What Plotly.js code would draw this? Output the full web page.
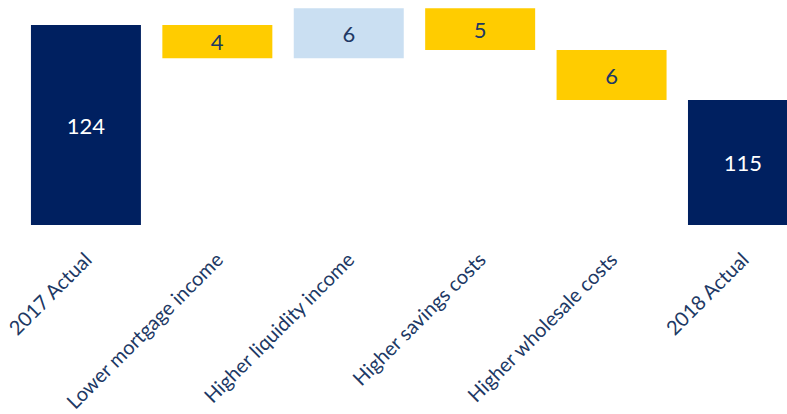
<!DOCTYPE html>
<html>
<head>
<meta charset="utf-8">
<script src="https://cdn.plot.ly/plotly-3.0.1.min.js"></script>
<style>html,body{margin:0;padding:0;background:#fff;}#chart{width:787px;height:414px;}</style>
</head>
<body>
<div id="chart"></div>
<script>
var categories = ["2017 Actual", "Lower mortgage income", "Higher liquidity income", "Higher savings costs", "Higher wholesale costs", "2018 Actual"];
var measures = ["absolute", "relative", "relative", "relative", "relative", "total"];
var values = [124, -4, 6, -5, -6, 115];
var labels = ["124", "4", "6", "5", "6", "115"];
var axisFloor = 100;

var yVals = values.map(function (v, i) {
  return measures[i] === "absolute" ? v - axisFloor : (measures[i] === "total" ? 0 : v);
});
var textColors = measures.map(function (m) { return m === "relative" ? "#203864" : "#ffffff"; });

var trace = {
  type: "waterfall",
  x: categories,
  y: yVals,
  measure: measures,
  base: axisFloor,
  text: labels,
  textposition: "inside",
  insidetextanchor: "middle",
  constraintext: "none",
  textfont: { family: "Lato, 'Open Sans', sans-serif", size: 22, color: textColors },
  connector: { visible: false },
  decreasing: { marker: { color: "#FFCC00" } },
  increasing: { marker: { color: "#CADFF2" } },
  totals: { marker: { color: "#002060" } },
  hoverinfo: "skip",
  cliponaxis: false
};

var layout = {
  width: 787,
  height: 414,
  margin: { l: 0, r: 0, t: 0, b: 189, pad: 0 },
  paper_bgcolor: "#ffffff",
  plot_bgcolor: "#ffffff",
  showlegend: false,
  waterfallgap: 0.163,
  font: { family: "Lato, 'Open Sans', sans-serif" },
  xaxis: {
    type: "category",
    range: [-0.654, 5.335],
    tickangle: -45,
    tickfont: { size: 20, color: "#203864" },
    ticklabelstandoff: 18,
    showgrid: false,
    showline: false,
    zeroline: false,
    ticks: "",
    automargin: false
  },
  yaxis: {
    range: [100, 127],
    visible: false,
    showgrid: false,
    zeroline: false,
    automargin: false
  }
};

Plotly.newPlot("chart", [trace], layout, { displayModeBar: false, staticPlot: true });
</script>
</body>
</html>
